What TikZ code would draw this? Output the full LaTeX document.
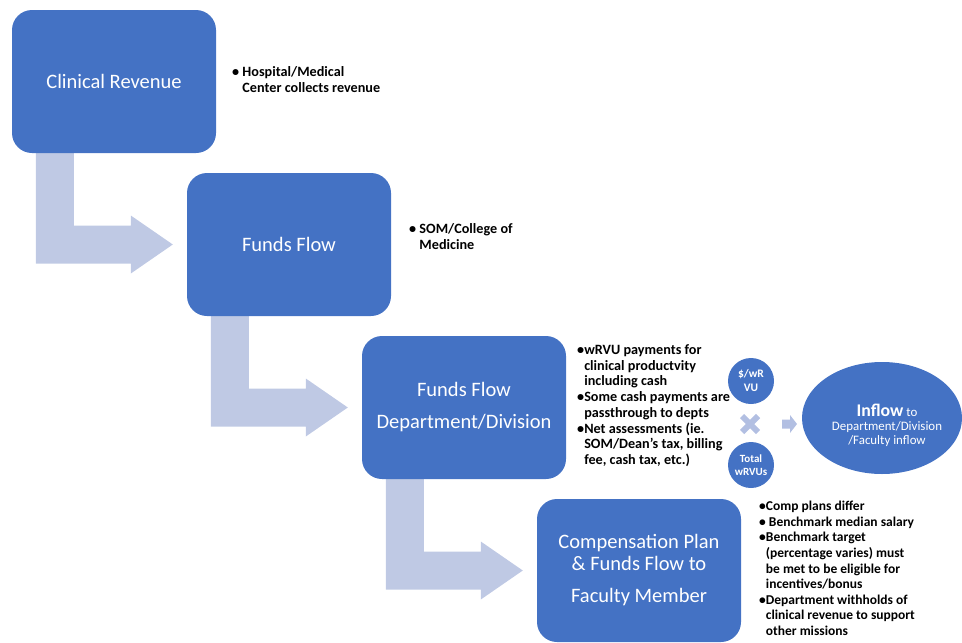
\documentclass[tikz,border=0pt]{standalone}
\usepackage{fontspec}
\setmainfont{Carlito}
\usetikzlibrary{calc,shapes.geometric,backgrounds}
\definecolor{boxBlue}{RGB}{68,114,196}
\definecolor{arrowBlue}{RGB}{191,201,228}
\definecolor{crossBlue}{RGB}{178,191,226}

\begin{document}
\begin{tikzpicture}
[x=1pt,y=-1pt,
  stepBox/.style={fill=boxBlue,rounded corners=20pt,minimum width=204pt,
    minimum height=143pt,text=white,align=center,
    font=\fontsize{20.5}{22}\selectfont},
  noteText/.style={anchor=north west,align=left,inner sep=0pt,
    font=\bfseries\fontsize{14.2}{15.7}\selectfont},
  bentArrow/.style={fill=arrowBlue},
  rateCircle/.style={circle,fill=boxBlue,minimum size=46pt,inner sep=0pt,
    text=white,align=center},
  crossMark/.style={draw=crossBlue,line width=6pt},
  inflowEllipse/.style={ellipse,fill=boxBlue,minimum width=160pt,
    minimum height=112pt,inner sep=0pt}]
\useasboundingbox (0,0) rectangle (962,643);
%% steps
\foreach \nodename/\x/\y/\label in {
  clin/114/81.5/{Clinical Revenue},
  flow/289/244.5/{Funds Flow},
  dept/464/407.5/{Funds Flow\\[10pt]Department/Division},
  comp/639/570.5/{Compensation Plan\\\& Funds Flow to\\[10pt]Faculty Member}}
{
  \node (\nodename) at (\x,\y) [stepBox] {\label};
}
%% bent arrows between steps
\begin{scope}[on background layer]
\foreach \startnode/\endnode in {clin/flow, flow/dept, dept/comp}
{
  \fill[bentArrow] ([xshift=24pt,yshift=2pt]\startnode.south west) coordinate (s)
    -- ++(38,0) |- ($(\endnode.west)+(-56,-19)$) -- ++(0,-10)
    -- ($(\endnode.west)+(-14,0)$) -- ($(\endnode.west)+(-56,29)$)
    -- ++(0,-10) -| (s) -- cycle;
}
\end{scope}
%% notes
\node[noteText] (clinNote) at (232,66.5)
  {• Hospital/Medical\\\hphantom{• }Center collects revenue};
\node[noteText] (flowNote) at (409,223.5)
  {• SOM/College of\\\hphantom{• }Medicine};
\node[noteText] (deptNote) at (577,344.5)
  {•wRVU payments for\\\hphantom{•}clinical productvity\\\hphantom{•}including cash\\
   •Some cash payments are\\\hphantom{•}passthrough to depts\\
   •Net assessments (ie.\\\hphantom{•}SOM/Dean's tax, billing\\\hphantom{•}fee, cash tax, etc.)};
\node[noteText,font=\bfseries\fontsize{13.5}{15.6}\selectfont] (compNote) at (759,501)
  {•Comp plans differ\\• Benchmark median salary\\•Benchmark target\\
   \hphantom{•}(percentage varies) must\\\hphantom{•}be met to be eligible for\\
   \hphantom{•}incentives/bonus\\•Department withholds of\\
   \hphantom{•}clinical revenue to support\\\hphantom{•}other missions};
%% rate x volume
\node[rateCircle,font=\bfseries\fontsize{11.5}{14}\selectfont] (rate) at (751,381) {\$/wR\\VU};
\node[rateCircle,font=\bfseries\fontsize{11}{13.5}\selectfont] (volume) at (751,465) {Total\\wRVUs};
\coordinate (times) at (750,424);
\draw[crossMark] ($(times)+(-8,-8)$) -- ($(times)+(8,8)$);
\draw[crossMark] ($(times)+(-8,8)$) -- ($(times)+(8,-8)$);
\node[inflowEllipse] (inflow) at (882,418) {};
\fill[crossBlue] (782,419.5) -- (790,419.5) -- (790,415) -- (797,424)
  -- (790,433) -- (790,428.5) -- (782,428.5) -- cycle;
\node[text=white,align=center,inner sep=0pt,font=\fontsize{12.9}{14}\selectfont]
  (inflowText) at (887,425)
  {{\bfseries\fontsize{17.8}{19}\selectfont Inflow} to\\Department/Division\\/Faculty inflow};
\end{tikzpicture}
\end{document}
